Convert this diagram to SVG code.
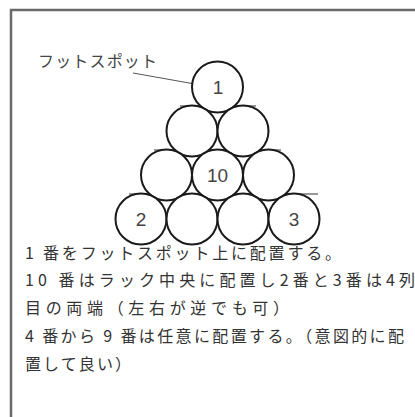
<svg xmlns="http://www.w3.org/2000/svg" width="415" height="417" viewBox="0 0 415 417">
<style>
.ball{fill:#fff;stroke:#1a1a1a;stroke-width:2}
.num{font-family:"Liberation Sans","Noto Sans CJK JP",sans-serif;font-size:19px;fill:#444;text-anchor:middle}
.txt{font-family:"Noto Sans CJK JP",sans-serif;font-size:16px;fill:#333}
.rowline{stroke:#777;stroke-width:1.5}
</style>
<rect width="415" height="417" fill="#fff"/>
<rect x="11" y="10" width="420" height="420" fill="none" stroke="#6a6a6a" stroke-width="2.5"/>
<g id="rack-lines">
<line class="rowline" x1="180" y1="106" x2="256" y2="106"/>
<line class="rowline" x1="154" y1="150" x2="281" y2="150"/>
<line class="rowline" x1="129" y1="194" x2="318" y2="194"/>
</g>
<g id="connectors">
<line x1="133" y1="73" x2="206" y2="86" stroke="#555" stroke-width="1"/>
</g>
<g id="ball1"><circle class="ball" cx="217.5" cy="87" r="25.5"/><text class="num" x="218" y="94">1</text></g>
<g id="ball-r2a"><circle class="ball" cx="192" cy="131" r="25.5"/></g>
<g id="ball-r2b"><circle class="ball" cx="243" cy="131" r="25.5"/></g>
<g id="ball-r3a"><circle class="ball" cx="166.5" cy="175" r="25.5"/></g>
<g id="ball10"><circle class="ball" cx="217.5" cy="175" r="25.5"/><text class="num" x="217.5" y="182">10</text></g>
<g id="ball-r3c"><circle class="ball" cx="268.5" cy="175" r="25.5"/></g>
<g id="ball2"><circle class="ball" cx="141" cy="219" r="25.5"/><text class="num" x="141" y="226">2</text></g>
<g id="ball-r4b"><circle class="ball" cx="192" cy="219" r="25.5"/></g>
<g id="ball-r4c"><circle class="ball" cx="243" cy="219" r="25.5"/></g>
<g id="ball3"><circle class="ball" cx="294" cy="219" r="25.5"/><text class="num" x="294" y="226">3</text></g>
<g id="label-footspot"><text x="38" y="67" textLength="119" lengthAdjust="spacing" style="font-family:'Noto Sans CJK JP',sans-serif;font-size:16px;fill:#444">フットスポット</text></g>
<g id="description">
<text class="txt" x="25" y="259" textLength="316" lengthAdjust="spacing">1 番をフットスポット上に配置する。</text>
<text class="txt" x="25" y="286" textLength="390" lengthAdjust="spacing">10 番はラック中央に配置し2番と3番は4列</text>
<text class="txt" x="25" y="314" textLength="264" lengthAdjust="spacing">目の両端（左右が逆でも可）</text>
<text class="txt" x="25" y="342" textLength="379" lengthAdjust="spacing">4 番から 9 番は任意に配置する。（意図的に配</text>
<text class="txt" x="25" y="370" textLength="106" lengthAdjust="spacing">置して良い）</text>
</g>
</svg>
